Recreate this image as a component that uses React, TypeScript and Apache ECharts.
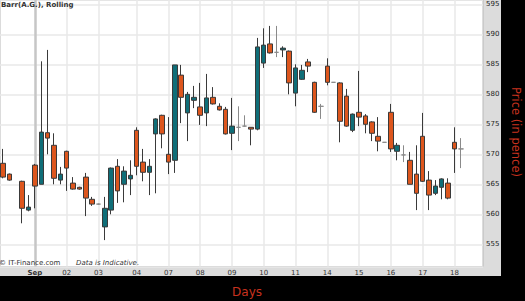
import React, { useEffect, useRef } from "react";
import * as echarts from "echarts";

// Day labels and the slot (candle index) at which each day's separator sits
const dayLabels = ["Sep", "02", "03", "04", "07", "08", "09", "10", "11", "14", "15", "16", "17", "18"];
const dayStarts = [5, 10, 15, 21, 26, 31, 36, 41, 46, 51, 56, 61, 66, 71];
const slotCount = 76;

// Candle values (pence); null = no candle in that slot
const opens = [568.5, 566.7, null, 565.5, 560.7, 568.2, 565.0, 573.6, 571.5, 565.7, 570.5, 565.2, 564.5, 566.2, 562.5, 561.7, 557.9, 560.7, 568.0, 565.0, 565.9, 574.0, 568.7, 567.0, 573.4, 576.5, 570.0, 569.0, 583.2, 576.9, 579.0, 577.9, 576.9, 579.5, 578.0, 577.5, 573.5, 574.5, 574.7, 574.5, 574.2, 585.2, 588.4, 587.0, 587.4, 587.2, 580.2, 582.5, 585.4, 582.0, 578.0, 584.7, 582.0, 581.9, 579.7, 574.0, 577.0, 576.4, 575.4, 573.0, 572.0, 577.0, 570.5, 569.9, 569.0, 566.7, 573.0, 565.7, 563.5, 564.5, 565.2, 572.0, 570.9];
const closes = [566.2, 565.7, null, 561.0, 561.2, 564.7, 573.7, 572.7, 566.0, 566.7, 567.7, 564.2, 564.2, 562.7, 561.7, 561.7, 561.0, 567.7, 563.9, 567.2, 566.5, 568.0, 567.0, 568.0, 575.9, 573.4, 568.7, 584.9, 579.5, 580.0, 579.5, 576.5, 579.4, 578.4, 577.4, 573.4, 574.7, 574.5, 574.7, 574.2, 587.9, 588.2, 586.9, 587.0, 587.7, 581.9, 584.4, 584.0, 584.7, 577.0, 578.0, 582.0, 582.0, 575.5, 574.7, 576.7, 576.2, 575.0, 573.5, 572.2, 572.0, 570.9, 571.5, 569.9, 565.0, 563.5, 565.5, 563.2, 564.7, 565.9, 562.7, 570.9, 570.9];
const lows = [566.0, 565.6, null, 558.5, 560.5, 561.0, 565.0, 570.0, 565.0, 565.0, 563.9, 564.1, 564.1, 559.7, 561.4, 561.6, 555.7, 560.0, 561.9, 562.0, 563.2, 566.5, 565.5, 563.2, 563.5, 571.0, 566.7, 566.9, 575.2, 572.2, 577.7, 574.9, 574.7, 578.3, 577.3, 573.3, 570.7, 572.2, 574.6, 571.5, 574.0, 584.4, 586.8, 586.2, 586.2, 580.0, 578.0, 582.4, 583.7, 576.9, 575.9, 581.5, 582.0, 572.0, 574.6, 573.7, 574.7, 573.5, 572.2, 570.5, 572.0, 570.4, 569.0, 568.7, 565.0, 560.7, 565.4, 560.7, 563.2, 562.5, 562.5, 566.9, 567.7];
const highs = [570.9, 566.8, null, 565.6, 563.2, 568.4, 585.5, 587.4, 573.5, 567.9, 570.6, 566.2, 564.6, 566.9, 562.9, 561.8, 562.9, 567.8, 569.2, 568.0, 569.0, 574.5, 570.9, 569.2, 576.0, 576.6, 576.2, 584.9, 584.9, 580.4, 581.4, 581.9, 583.4, 581.2, 578.5, 577.9, 579.4, 578.0, 576.5, 574.5, 589.4, 591.0, 591.4, 591.4, 588.0, 587.3, 585.0, 584.9, 585.9, 582.1, 578.4, 586.0, 582.0, 582.0, 580.9, 576.8, 583.9, 576.7, 575.5, 576.2, 572.0, 578.4, 571.9, 571.5, 570.4, 571.5, 576.9, 567.2, 565.7, 566.0, 566.0, 574.5, 572.7];

const yMin = 551.3;
const yMax = 595.72;

export default function App() {
  const ref = useRef<HTMLDivElement>(null);
  useEffect(() => {
    if (!ref.current) return;
    const chart = echarts.init(ref.current, null, { renderer: "svg" });
    const categories = Array.from({ length: slotCount }, (_, i) => {
      const j = dayStarts.indexOf(i);
      return j >= 0 ? dayLabels[j] : `s${i}`;
    });
    const data = opens.map((o, i) =>
      o == null ? "-" : [o, closes[i], lows[i], highs[i]]
    );
    const markData = dayLabels.map((d) =>
      d === "Sep"
        ? { xAxis: d, lineStyle: { color: "#c6c6c6", width: 2.5, type: "solid" } }
        : { xAxis: d }
    );
    chart.setOption({
      animation: false,
      backgroundColor: "transparent",
      title: {
        text: "Barr(A.G.), Rolling",
        left: 1,
        top: 1,
        padding: 0,
        textStyle: { fontSize: 7, fontWeight: "bold", color: "#333", fontFamily: "DejaVu Sans" },
      },
      grid: {
        left: 0,
        top: 0,
        right: 42,
        bottom: 34.5,
        show: true,
        backgroundColor: "#fff",
        borderColor: "#b8b8b8",
        borderWidth: 1,
      },
      xAxis: {
        type: "category",
        data: categories,
        boundaryGap: true,
        axisLine: { show: false },
        axisTick: { show: false },
        splitLine: { show: false },
        axisLabel: {
          interval: (index: number) => dayStarts.includes(index),
          formatter: (v: string) => (v === "Sep" ? `{b|${v}}` : v),
          fontSize: 7,
          color: "#333",
          fontFamily: "DejaVu Sans",
          margin: 3,
          rich: { b: { fontSize: 7, fontWeight: "bold", color: "#333", fontFamily: "DejaVu Sans" } },
        },
      },
      yAxis: {
        type: "value",
        position: "right",
        min: yMin,
        max: yMax,
        splitNumber: 8,
        axisLine: { show: false },
        axisTick: { show: false },
        axisLabel: {
          showMinLabel: false,
          showMaxLabel: false,
          fontSize: 7,
          color: "#222",
          fontFamily: "DejaVu Sans",
          margin: 3,
        },
        splitLine: { lineStyle: { color: "#e8e8e8", width: 1.5 } },
      },
      series: [
        {
          type: "candlestick",
          data,
          barWidth: 5,
          itemStyle: {
            color: "#0f6e78",
            color0: "#dd561d",
            borderColor: "#3a3a3a",
            borderColor0: "#3a3a3a",
            borderColorDoji: "#8a8a8a",
            borderWidth: 1,
          },
          emphasis: { disabled: true },
          markLine: {
            silent: true,
            z: 1,
            symbol: ["none", "none"],
            label: { show: false },
            lineStyle: { color: "#e8e8e8", width: 1.5, type: "solid" },
            data: markData,
          },
        },
      ],
      graphic: [
        {
          type: "text",
          x: -1,
          y: 263,
          z: 10,
          style: { text: "© IT-Finance.com", fontSize: 7, fill: "#333", fontFamily: "DejaVu Sans", verticalAlign: "middle" },
        },
        {
          type: "text",
          x: 76,
          y: 263,
          z: 10,
          style: { text: "Data is Indicative.", fontSize: 7, fontStyle: "italic", fill: "#333", fontFamily: "DejaVu Sans", verticalAlign: "middle" },
        },
        {
          type: "text",
          x: 516,
          y: 132,
          z: 10,
          rotation: -Math.PI / 2,
          style: { text: "Price (in pence)", fontSize: 11.5, fill: "#c8321f", fontFamily: "DejaVu Sans", align: "center", verticalAlign: "middle" },
        },
        {
          type: "text",
          x: 247,
          y: 292,
          z: 10,
          style: { text: "Days", fontSize: 12, fill: "#c8321f", fontFamily: "DejaVu Sans", align: "center", verticalAlign: "middle" },
        },
      ],
    });
    return () => chart.dispose();
  }, []);

  return (
    <div style={{ position: "fixed", left: 0, top: 0, width: 525, height: 301, background: "#000" }}>
      <div style={{ position: "absolute", left: 0, top: 0, width: 501, height: 276, background: "#dcdcdc" }} />
      <div ref={ref} style={{ position: "absolute", left: 0, top: 0, width: 525, height: 301 }} />
    </div>
  );
}
